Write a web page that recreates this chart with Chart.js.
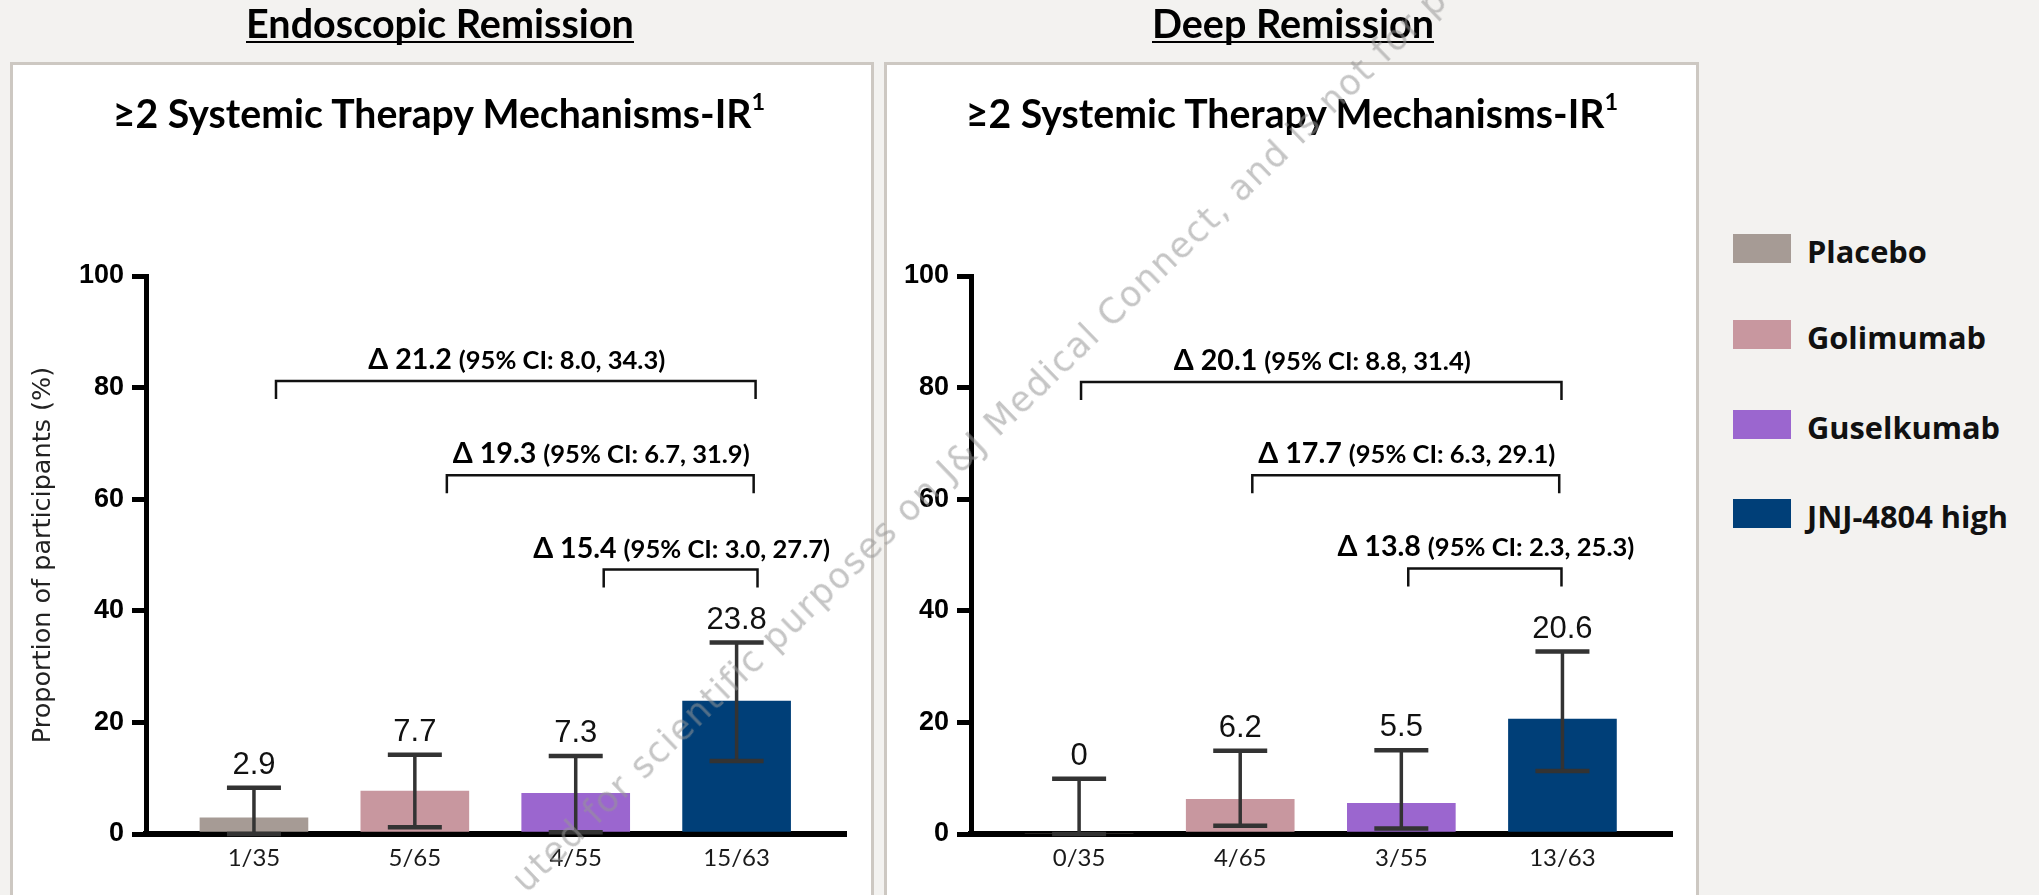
<!DOCTYPE html>
<html>
<head>
<meta charset="utf-8">
<script src="https://cdn.jsdelivr.net/npm/chart.js@4.4.1/dist/chart.umd.min.js"></script>
<style>
  html, body { margin: 0; padding: 0; }
  body { width: 2039px; height: 895px; overflow: hidden; background: #f3f2f0; position: relative; }
  .panel { position: absolute; background: #ffffff; border: 3px solid #cdc8c2; box-sizing: border-box; }
  canvas { position: absolute; top: 0; }
  .txt { position: absolute; white-space: nowrap; line-height: normal; color: #000; }
  .sup { font-size: 0.6em; position: relative; top: -0.75em; }
  .uline { position: absolute; background: #000; height: 2px; }
  .swatch { position: absolute; width: 58px; height: 29px; }
  #wm { position: absolute; transform-origin: 0 0; transform: rotate(-44deg); white-space: nowrap;
        font: 35px "DejaVu Sans", sans-serif; letter-spacing: 1.5px; line-height: 1;
        color: rgba(150,150,150,0.55); pointer-events: none; }
</style>
</head>
<body>
<div class="panel" style="left:10px;top:62px;width:864px;height:860px"></div>
<div class="panel" style="left:884px;top:62px;width:815px;height:860px"></div>
<canvas id="c1" width="880" height="895" style="left:0px"></canvas>
<canvas id="c2" width="820" height="895" style="left:880px"></canvas>
<script>
// ---------------- DATA ----------------
const categories = ['Placebo', 'Golimumab', 'Guselkumab', 'JNJ-4804 high'];
const seriesColors = ['#a69b95', '#c8979f', '#9b66cf', '#003f78'];
const yTicks = [0, 20, 40, 60, 80, 100];

const panelTitles = ['Endoscopic Remission', 'Deep Remission'];
const panelSubtitle = '≥2 Systemic Therapy Mechanisms-IR';
const panelSubtitleSup = '1';
const yAxisTitle = 'Proportion of participants (%)';

const endoValues = [2.9, 7.7, 7.3, 23.8];
const endoCILow  = [0, 1.2, 0.3, 13.1];
const endoCIHigh = [8.3, 14.2, 14.0, 34.3];
const endoCounts = ['1/35', '5/65', '4/55', '15/63'];
const endoCompFrom  = [0, 1, 2];
const endoCompTo    = [3, 3, 3];
const endoCompLevel = [81.2, 64.3, 47.4];
const endoCompDelta = ['Δ 21.2', 'Δ 19.3', 'Δ 15.4'];
const endoCompCI    = ['(95% CI: 8.0, 34.3)', '(95% CI: 6.7, 31.9)', '(95% CI: 3.0, 27.7)'];

const deepValues = [0, 6.2, 5.5, 20.6];
const deepCILow  = [0, 1.5, 1.0, 11.3];
const deepCIHigh = [9.9, 14.9, 15.0, 32.7];
const deepCounts = ['0/35', '4/65', '3/55', '13/63'];
const deepCompFrom  = [0, 1, 2];
const deepCompTo    = [3, 3, 3];
const deepCompLevel = [81.0, 64.3, 47.6];
const deepCompDelta = ['Δ 20.1', 'Δ 17.7', 'Δ 13.8'];
const deepCompCI    = ['(95% CI: 8.8, 31.4)', '(95% CI: 6.3, 29.1)', '(95% CI: 2.3, 25.3)'];

const watermarkText = 'uted for scientific purposes on J&J Medical Connect, and is not for p';

// ---------------- STYLE / LAYOUT ----------------
const meas = document.createElement('canvas').getContext('2d');
function textWidth(font, s) { meas.font = font; return meas.measureText(s).width; }
function ascentOf(font, s) { meas.font = font; return meas.measureText(s).fontBoundingBoxAscent; }

// bracket label font scaling: fit to reference width
const bracketBaseA = 28, bracketBaseB = 25;
const bracketK = 297 / (textWidth(`bold ${bracketBaseA}px Lato`, endoCompDelta[0] + ' ') +
                        textWidth(`bold ${bracketBaseB}px Lato`, endoCompCI[0]));
const bracketA = bracketBaseA * bracketK, bracketB = bracketBaseB * bracketK;

function overlayPlugin(values, low, high, compFrom, compTo, compLevel, compDelta, compCI, nudgeFrom, nudgeTo) {
  return {
    id: 'overlay',
    afterDraw(chart) {
      const { ctx, scales: { x, y } } = chart;
      ctx.save();
      // error bars
      ctx.strokeStyle = '#333333';
      ctx.lineCap = 'butt';
      for (let i = 0; i < values.length; i++) {
        const px = x.getPixelForValue(i);
        const yh = y.getPixelForValue(high[i]);
        const yl = y.getPixelForValue(low[i]);
        ctx.lineWidth = 3.5;
        ctx.beginPath(); ctx.moveTo(px, yl); ctx.lineTo(px, yh); ctx.stroke();
        ctx.lineWidth = 4.5;
        ctx.beginPath();
        ctx.moveTo(px - 27, yh); ctx.lineTo(px + 27, yh);
        ctx.moveTo(px - 27, yl); ctx.lineTo(px + 27, yl);
        ctx.stroke();
        ctx.fillStyle = '#111111';
        ctx.font = '31px "Liberation Sans", Arial, sans-serif';
        ctx.textAlign = 'center';
        ctx.textBaseline = 'alphabetic';
        ctx.fillText(String(values[i]), px, yh - 14);
      }
      // comparison brackets
      ctx.strokeStyle = '#111111';
      ctx.lineWidth = 2.5;
      for (let k = 0; k < compFrom.length; k++) {
        const x1 = x.getPixelForValue(compFrom[k] + nudgeFrom[k]);
        const x2 = x.getPixelForValue(compTo[k] + nudgeTo[k]);
        const yy = y.getPixelForValue(compLevel[k]);
        ctx.beginPath();
        ctx.moveTo(x1, yy + 18); ctx.lineTo(x1, yy); ctx.lineTo(x2, yy); ctx.lineTo(x2, yy + 18);
        ctx.stroke();
        const fA = `bold ${bracketA}px Lato`, fB = `bold ${bracketB}px Lato`;
        const partA = compDelta[k] + ' ';
        const wA = textWidth(fA, partA), wB = textWidth(fB, compCI[k]);
        const cx = (x1 + x2) / 2 + 1;
        let sx = cx - (wA + wB) / 2;
        ctx.fillStyle = '#000';
        ctx.textAlign = 'left';
        ctx.textBaseline = 'alphabetic';
        ctx.font = fA; ctx.fillText(partA, sx, yy - 12);
        ctx.font = fB; ctx.fillText(compCI[k], sx + wA, yy - 12);
      }
      ctx.restore();
    }
  };
}

function makeChart(id, values, low, high, counts, comp, st) {
  return new Chart(document.getElementById(id), {
    type: 'bar',
    data: {
      datasets: [{
        data: values.map((v, i) => ({ x: i, y: v })),
        backgroundColor: seriesColors,
        borderWidth: 0,
        barThickness: 108
      }]
    },
    options: {
      responsive: false,
      animation: false,
      events: [],
      layout: { padding: { top: 276, left: 0, right: st.padRight, bottom: 0 } },
      plugins: { legend: { display: false }, tooltip: { enabled: false } },
      scales: {
        x: {
          type: 'linear', min: -0.671, max: 3.68, offset: false, z: 1,
          afterBuildTicks: s => { s.ticks = counts.map((c, i) => ({ value: i })); },
          ticks: {
            callback: v => counts[v],
            font: { family: 'Lato', size: 24 }, color: '#1a1a1a',
            padding: 10, autoSkip: false, maxRotation: 0, minRotation: 0
          },
          grid: { drawOnChartArea: false, drawTicks: false, offset: false },
          border: { display: true, width: 6, color: '#000' },
          afterFit: s => { s.height = 61; }
        },
        y: {
          min: 0, max: 100,
          afterBuildTicks: s => { s.ticks = yTicks.map(v => ({ value: v })); },
          ticks: { font: { family: 'Liberation Sans', weight: 'bold', size: 27 }, color: '#000', padding: 8 },
          grid: { drawOnChartArea: false, drawTicks: true, tickLength: 14, lineWidth: 5, color: '#000' },
          border: { display: true, width: 5, color: '#000' },
          title: st.yTitle ? {
            display: true, text: yAxisTitle,
            font: { family: 'DejaVu Sans', size: 25.5 }, color: '#222', padding: { top: 28, bottom: 0 }
          } : { display: false },
          afterFit: s => { s.width = st.yWidth; }
        }
      }
    },
    plugins: [overlayPlugin(values, low, high, comp.from, comp.to, comp.level, comp.delta, comp.ci, st.nudgeFrom, st.nudgeTo)]
  });
}

makeChart('c1', endoValues, endoCILow, endoCIHigh, endoCounts,
  { from: endoCompFrom, to: endoCompTo, level: endoCompLevel, delta: endoCompDelta, ci: endoCompCI },
  { padRight: 34, yWidth: 146, yTitle: true, nudgeFrom: [0.137, 0.199, 0.174], nudgeTo: [0.118, 0.106, 0.13] });

makeChart('c2', deepValues, deepCILow, deepCIHigh, deepCounts,
  { from: deepCompFrom, to: deepCompTo, level: deepCompLevel, delta: deepCompDelta, ci: deepCompCI },
  { padRight: 28, yWidth: 91, yTitle: false, nudgeFrom: [0.012, 0.075, 0.043], nudgeTo: [-0.006, -0.02, -0.006] });

// ---------------- HTML TEXT ----------------
function addText(html, plain, font, baseline, opts) {
  const el = document.createElement('div');
  el.className = 'txt';
  el.style.font = font;
  if (opts.color) el.style.color = opts.color;
  el.innerHTML = html;
  document.body.appendChild(el);
  el.style.top = (baseline - ascentOf(font, plain)) + 'px';
  const w = el.getBoundingClientRect().width;
  const left = opts.cx !== undefined ? opts.cx - w / 2 : opts.left;
  el.style.left = left + 'px';
  return { el, left, w };
}
function esc(s) { return s.replace(/&/g, '&amp;').replace(/</g, '&lt;'); }

// panel titles (underlined)
const titleSize = 36 * 388 / textWidth('bold 36px Lato', panelTitles[0]);
const titleFont = `bold ${titleSize}px Lato`;
[[panelTitles[0], 440], [panelTitles[1], 1293]].forEach(([t, cx]) => {
  const r = addText(esc(t), t, titleFont, 38, { cx });
  const u = document.createElement('div');
  u.className = 'uline';
  u.style.left = r.left + 'px'; u.style.width = r.w + 'px'; u.style.top = '41px';
  document.body.appendChild(u);
});

// panel subtitles
const subSize = 36 * 641 / textWidth('bold 36px Lato', panelSubtitle);
const subFont = `bold ${subSize}px Lato`;
[439, 1292].forEach(cx => {
  addText(esc(panelSubtitle) + '<span class="sup">' + panelSubtitleSup + '</span>', panelSubtitle, subFont, 128, { cx });
});

// legend
const legSize = 30 * 179 / textWidth('bold 30px "Open Sans"', categories[1]);
const legFont = `bold ${legSize}px "Open Sans"`;
const legTops = [234, 320, 410, 499];
categories.forEach((c, i) => {
  const sw = document.createElement('div');
  sw.className = 'swatch';
  sw.style.left = '1733px'; sw.style.top = legTops[i] + 'px'; sw.style.background = seriesColors[i];
  document.body.appendChild(sw);
  addText(esc(c), c, legFont, legTops[i] + 29, { left: 1807, color: '#111' });
});

// watermark
const wm = document.createElement('div');
wm.id = 'wm';
wm.textContent = watermarkText;
wm.style.left = '506px'; wm.style.top = '873px';
document.body.appendChild(wm);
</script>
</body>
</html>
